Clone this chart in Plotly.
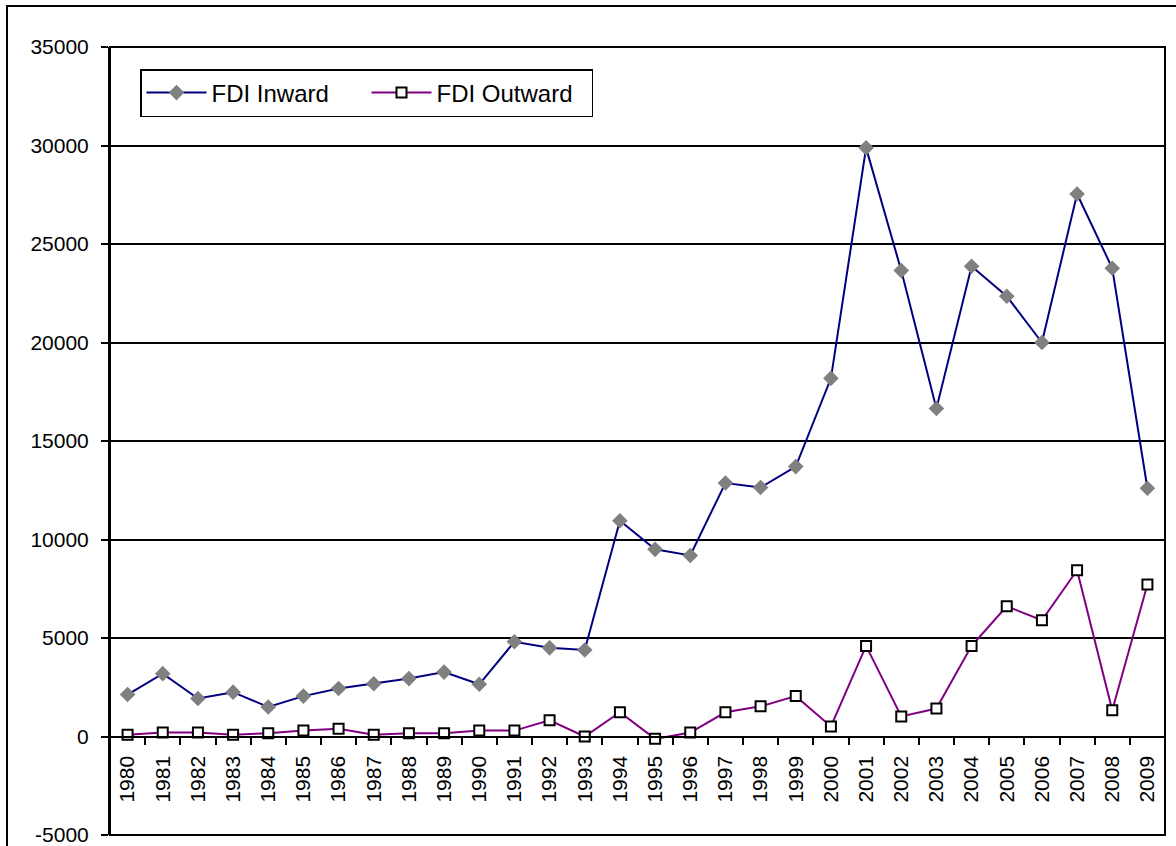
import plotly.graph_objects as go

years = ["1980", "1981", "1982", "1983", "1984", "1985", "1986", "1987", "1988", "1989",
         "1990", "1991", "1992", "1993", "1994", "1995", "1996", "1997", "1998", "1999",
         "2000", "2001", "2002", "2003", "2004", "2005", "2006", "2007", "2008", "2009"]

fdi_inward = [2130, 3190, 1930, 2250, 1500, 2050, 2440, 2680, 2940, 3270,
              2650, 4810, 4500, 4390, 10950, 9500, 9190, 12870, 12640, 13700,
              18180, 29880, 23650, 16650, 23870, 22350, 20000, 27540, 23770, 12600]

fdi_outward = [90, 200, 200, 90, 170, 300, 390, 90, 170, 170,
               300, 300, 820, 0, 1230, -120, 200, 1230, 1530, 2050,
               510, 4600, 1020, 1420, 4600, 6610, 5900, 8440, 1330, 7720]

y_tick_vals = [-5000, 0, 5000, 10000, 15000, 20000, 25000, 30000, 35000]
y_tick_text = ["-5000", "0", "5000", "10000", "15000", "20000", "25000", "30000", "35000"]

FONT = "Liberation Sans, Arial, sans-serif"

fig = go.Figure()
fig.add_trace(go.Scatter(
    x=years, y=fdi_inward, name="FDI Inward", mode="lines+markers",
    line=dict(color="#000080", width=2),
    marker=dict(symbol="diamond", size=12, color="#808080", line=dict(width=0)),
))
fig.add_trace(go.Scatter(
    x=years, y=fdi_outward, name="FDI Outward", mode="lines+markers",
    line=dict(color="#800080", width=2),
    marker=dict(symbol="square", size=10, color="white", line=dict(color="black", width=2)),
))

W, H = 1176, 846
L, R, T, B = 110, 11, 47, 11
pw = W - L - R
ph = H - T - B

fig.update_layout(
    width=W, height=H,
    margin=dict(l=L, r=R, t=T, b=B, autoexpand=False),
    paper_bgcolor="white", plot_bgcolor="white",
    font=dict(family=FONT, color="black", size=21),
    showlegend=True,
    legend=dict(
        orientation="h",
        x=(140 - L) / pw, y=1 - (69 - T) / ph,
        xanchor="left", yanchor="top",
        bgcolor="white", bordercolor="black", borderwidth=1.5,
        font=dict(size=24, family=FONT, color="black"),
        itemwidth=60,
        entrywidth=150, entrywidthmode="pixels",
    ),
    xaxis=dict(
        type="category",
        anchor="free", position=0.125,
        showline=True, linecolor="black", linewidth=2,
        ticks="outside", tickson="boundaries", ticklen=7, tickwidth=2, tickcolor="black",
        tickangle=-90, tickfont=dict(size=21, family=FONT, color="black"),
        ticklabelstandoff=10,
        showgrid=False, zeroline=False,
        range=[-0.5, len(years) - 0.5],
    ),
    yaxis=dict(
        range=[-5000, 35000],
        tickvals=y_tick_vals, ticktext=y_tick_text,
        showline=True, linecolor="black", linewidth=2,
        ticks="outside", ticklen=7, tickwidth=2, tickcolor="black",
        tickfont=dict(size=21, family=FONT, color="black"),
        ticklabelstandoff=8, ticklabeloverflow="allow",
        showgrid=True, gridcolor="black", gridwidth=2,
        zeroline=False,
    ),
    shapes=[
        dict(type="rect", xref="paper", yref="paper", x0=0, x1=1, y0=0, y1=1,
             line=dict(color="black", width=2), fillcolor="rgba(0,0,0,0)", layer="above"),
        dict(type="rect", xref="paper", yref="paper",
             x0=(7 - L) / pw, x1=(W + 5 - L) / pw,
             y0=-(B + 5) / ph, y1=1 + (T - 6) / ph,
             line=dict(color="black", width=2), fillcolor="rgba(0,0,0,0)", layer="below"),
    ],
)

fig.write_html(
    "out.html",
    config={"displayModeBar": False},
    post_script="document.body.style.margin='0';document.body.style.overflow='hidden';",
)
